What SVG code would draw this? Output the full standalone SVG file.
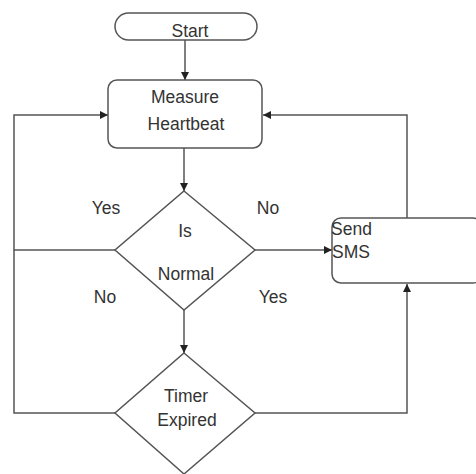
<svg xmlns="http://www.w3.org/2000/svg" width="476" height="474" viewBox="0 0 476 474">
<style>
.s{fill:#fff;stroke:#555;stroke-width:1.5}
.c{fill:none;stroke:#555;stroke-width:1.5}
text{font-family:"Liberation Sans",Arial,sans-serif;font-size:17.5px;fill:#333}
.m{text-anchor:middle}
</style>
<defs>
<marker id="a" viewBox="0 0 10 10" refX="10" refY="5" markerWidth="8" markerHeight="8" markerUnits="userSpaceOnUse" orient="auto">
<path d="M0,0 L10,5 L0,10 z" fill="#222"/>
</marker>
</defs>
<g id="connectors">
<path class="c" d="M185,40 V80" marker-end="url(#a)"/>
<path class="c" d="M184,148 V191" marker-end="url(#a)"/>
<path class="c" d="M184,310 V353" marker-end="url(#a)"/>
<path class="c" d="M115,250 H14 V115 H108" marker-end="url(#a)"/>
<path class="c" d="M115,413 H14 V250"/>
<path class="c" d="M255,250 H332" marker-end="url(#a)"/>
<path class="c" d="M407,218 V115 H263" marker-end="url(#a)"/>
<path class="c" d="M255,413 H407 V284" marker-end="url(#a)"/>
</g>
<g id="start">
<rect class="s" x="115" y="13" width="142" height="27" rx="13.5"/>
<text class="m" x="190" y="37">Start</text>
</g>
<g id="measure">
<rect class="s" x="108" y="80" width="154" height="68" rx="9"/>
<text class="m" x="185" y="103">Measure</text>
<text class="m" x="186" y="130">Heartbeat</text>
</g>
<g id="isnormal">
<path class="s" d="M184,191 L255,250 L184,310 L115,250 Z"/>
<text class="m" x="185" y="237">Is</text>
<text class="m" x="186" y="280">Normal</text>
</g>
<g id="sendsms">
<rect class="s" x="332" y="218" width="150" height="65" rx="9"/>
<text x="331" y="235">Send</text>
<text x="332" y="258">SMS</text>
</g>
<g id="timer">
<path class="s" d="M184,353 L255,413 L184,474 L115,413 Z"/>
<text class="m" x="186" y="402">Timer</text>
<text class="m" x="187" y="426">Expired</text>
</g>
<g id="labels">
<text class="m" x="106" y="214">Yes</text>
<text class="m" x="268" y="214">No</text>
<text class="m" x="105" y="303">No</text>
<text class="m" x="273" y="303">Yes</text>
</g>
</svg>
